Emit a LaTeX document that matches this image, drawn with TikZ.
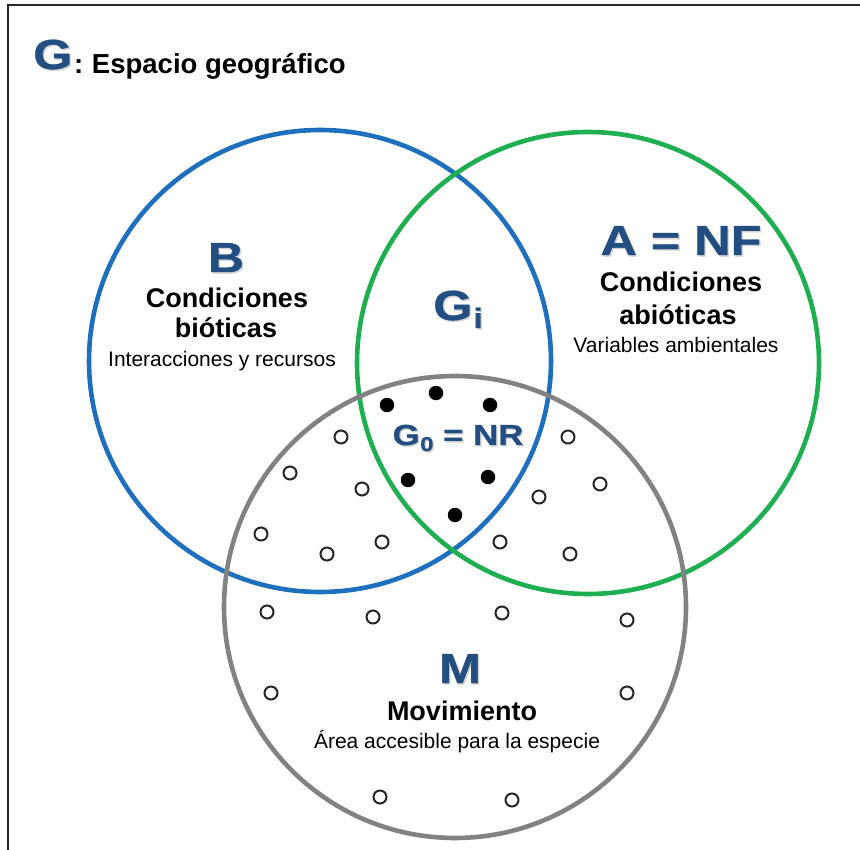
\documentclass[tikz,border=0pt]{standalone}
\usepackage{fontspec}
\setmainfont{Liberation Sans}
\newfontfamily\heavy[FakeStretch=1.2,FakeBold=0.8]{Liberation Sans}
\definecolor{bcol}{RGB}{30,112,190}
\definecolor{gcol}{RGB}{30,176,80}
\definecolor{mcol}{RGB}{130,130,130}
\definecolor{lblue}{RGB}{35,78,130}
\newcommand\shd[1]{\makebox[0pt][l]{\kern1.4pt\raisebox{-1.4pt}{\color{black!18}#1}}#1}
\begin{document}
\begin{tikzpicture}[x=1pt,y=-1pt,
  setcircle/.style={circle, line width=4.6pt, minimum size=462pt, inner sep=0pt},
  big/.style={font=\heavy\fontsize{42}{42}\selectfont\bfseries, text=lblue, inner sep=0pt, anchor=base},
  boldlbl/.style={font=\fontsize{27}{27}\selectfont\bfseries, inner sep=0pt, anchor=base},
  smalllbl/.style={font=\fontsize{21}{21}\selectfont, inner sep=0pt, anchor=base},
  fulldot/.style={circle, fill=black, minimum size=14.5pt, inner sep=0pt},
  opendot/.style={circle, draw=black!85, line width=2pt, fill=white, minimum size=13pt, inner sep=0pt}]
\useasboundingbox (0,0) rectangle (860,850);
\fill[white] (0,0) rectangle (860,850);
% frame
\draw[line width=2.5pt, black!85] (8,850) -- (8,5) -- (860,5);
% title
\node[font=\heavy\fontsize{42}{42}\selectfont\bfseries, text=lblue, anchor=base west, inner sep=0pt] (gT) at (33,69) {\shd{G}};
\node[font=\fontsize{27.5}{27.5}\selectfont\bfseries, anchor=base west, inner sep=0pt] (title) at (74,74) {:\kern1pt\ Espacio geográfico};
% circles
\node[setcircle, draw=bcol] (B) at (320,361) {};
\node[setcircle, draw=gcol] (A) at (588,363) {};
\node[setcircle, draw=mcol] (M) at (455,607) {};
% B labels
\node[big] (Bl) at (226,272) {\shd{B}};
\node[boldlbl] (B1) at (227,308) {Condiciones};
\node[boldlbl] (B2) at (226,338) {bióticas};
\node[smalllbl] (B3) at (222,367) {Interacciones y recursos};
% A labels
\node[big] (Al) at (681,255) {\shd{A = NF}};
\node[boldlbl] (A1) at (681,292) {Condiciones};
\node[boldlbl] (A2) at (678,325) {abióticas};
\node[smalllbl] (A3) at (676,353) {Variables ambientales};
% Gi
\node[big] (Gi) at (458,320) {\shd{G\kern1pt\raisebox{-8pt}{\fontsize{28}{28}\selectfont i}}};
% G0 = NR
\node[big, font=\heavy\fontsize{29}{29}\selectfont\bfseries] (G0) at (458,445) {\shd{G\kern0.5pt\raisebox{-6pt}{\fontsize{20}{20}\selectfont 0} = NR}};
% M labels
\node[big] (Ml) at (460,683) {\shd{M}};
\node[boldlbl] (M1) at (462,720) {Movimiento};
\node[smalllbl] (M2) at (457,748) {Área accesible para la especie};
% filled dots
\foreach \x/\y [count=\i] in {387/405,436/393,490/405,408/480,488/477,455/515}
  \node[fulldot] (f\i) at (\x,\y) {};
% open dots
\foreach \x/\y [count=\i] in {341/437,290/473,362/489,261/534,327/554,382/542,568/437,600/484,539/497,500/542,570/554,267/612,373/617,502/613,627/620,271/693,627/693,380/797,512/800}
  \node[opendot] (o\i) at (\x,\y) {};
\end{tikzpicture}
\end{document}
